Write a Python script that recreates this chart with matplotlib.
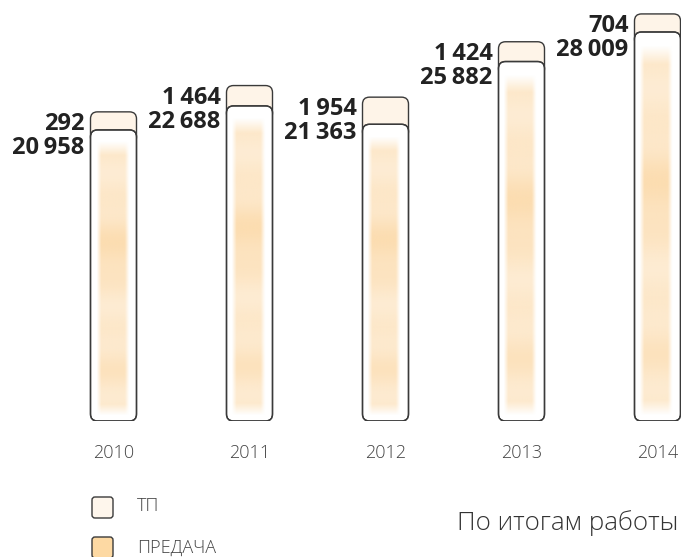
import numpy as np
import matplotlib.pyplot as plt
from matplotlib.patches import FancyBboxPatch

plt.rcParams['font.family'] = ['Open Sans', 'DejaVu Sans']

years = ['2010', '2011', '2012', '2013', '2014']
peredacha = [20958, 22688, 21363, 25882, 28009]   # ПРЕДАЧА
tp = [292, 1464, 1954, 1424, 704]                 # ТП
min_top = 1300  # small values still get a visible cap

W, H = 681, 557
fig = plt.figure(figsize=(W / 100, H / 100), dpi=100)

# bar axes: x in category units, y in data units
px_base = 421
step = 136.0
x_first = 113.5
upp = 72.0  # data units per pixel
ax = fig.add_axes([0, (H - px_base) / H, 1, px_base / H])
xlim = (-x_first / step, (W - x_first) / step)
ylim = (0, px_base * upp)
ax.set_xlim(*xlim)
ax.set_ylim(*ylim)
ax.axis('off')

bw = 46 / step
rad = 7 / step
asp = upp * step
edge = '#3a3a3a'
orange = np.array([251, 204, 138]) / 255.0


def wash(x, y0, y1):
    # soft watercolor strip inside the lower box
    nx, ny = 60, 200
    u = np.linspace(0, 1, nx)
    t = np.linspace(1, 0, ny)
    prof_x = np.clip((u - 0.12) / 0.1, 0, 1) * np.clip((0.84 - u) / 0.1, 0, 1)
    prof_y = (0.55 + 0.3 * np.exp(-((t - 0.6) / 0.12) ** 2)
              + 0.15 * np.exp(-((t - 0.17) / 0.08) ** 2)
              + 0.05 * np.cos(t * 40))
    prof_y *= np.clip(t / 0.04, 0, 1) * np.clip((0.98 - t) / 0.05, 0, 1)
    a = np.outer(prof_y, prof_x) * 0.75
    img = np.zeros((ny, nx, 4))
    img[..., :3] = orange
    img[..., 3] = np.clip(a, 0, 1)
    ax.imshow(img, extent=(x - bw / 2, x + bw / 2, y0, y1), aspect='auto',
              interpolation='bilinear', zorder=3)


for i, (p, t) in enumerate(zip(peredacha, tp)):
    x = i
    top_h = max(t, min_top)
    # upper cap (ТП)
    cap = FancyBboxPatch((x - bw / 2, p - 1000), bw, top_h + 1000,
                         boxstyle=f"round,pad=0,rounding_size={rad}",
                         mutation_aspect=asp, facecolor='#fef4e8',
                         edgecolor=edge, linewidth=1.0, zorder=1)
    ax.add_patch(cap)
    # lower box (ПРЕДАЧА)
    box = FancyBboxPatch((x - bw / 2, 0), bw, p,
                         boxstyle=f"round,pad=0,rounding_size={rad}",
                         mutation_aspect=asp, facecolor='white',
                         edgecolor=edge, linewidth=1.0, zorder=2)
    ax.add_patch(box)
    wash(x, 5 * upp, p - 6 * upp)
    ax.add_patch(FancyBboxPatch((x - bw / 2, 0), bw, p,
                                boxstyle=f"round,pad=0,rounding_size={rad}",
                                mutation_aspect=asp, facecolor='none',
                                edgecolor=edge, linewidth=1.0, zorder=4))

    top = p + top_h
    lbl = lambda v: f"{v:,}".replace(',', '\u2009')
    ax.annotate(lbl(t), xy=(x - bw / 2, top), xytext=(-6, -12),
                textcoords='offset pixels', ha='right', va='center',
                fontsize=17, fontweight='bold', color='#222222',
                annotation_clip=False)
    ax.annotate(lbl(p), xy=(x - bw / 2, top), xytext=(-6, -36),
                textcoords='offset pixels', ha='right', va='center',
                fontsize=17, fontweight='bold', color='#222222',
                annotation_clip=False)
    ax.annotate(years[i], xy=(x, 0), xytext=(0, -32),
                textcoords='offset pixels', ha='center', va='center',
                fontsize=13, fontweight='light', color='#444444',
                annotation_clip=False)

ax.set_xlim(*xlim)
ax.set_ylim(*ylim)

# overlay in pixel coordinates for legend and caption
ov = fig.add_axes([0, 0, 1, 1])
ov.set_xlim(0, W)
ov.set_ylim(H, 0)
ov.axis('off')

ov.add_patch(FancyBboxPatch((92, 497), 21, 21, boxstyle="round,pad=0,rounding_size=3",
                            facecolor='#fef6ec', edgecolor=edge, linewidth=1.0))
ov.add_patch(FancyBboxPatch((92, 537), 21, 21, boxstyle="round,pad=0,rounding_size=3",
                            facecolor='#fdd9a3', edgecolor=edge, linewidth=1.0))
ov.text(137, 506, 'ТП', fontsize=13, fontweight='light', color='#444444',
        va='center', ha='left')
ov.text(137, 548, 'ПРЕДАЧА', fontsize=13, fontweight='light', color='#444444',
        va='center', ha='left')
ov.text(678, 523, 'По итогам работы', fontsize=18.7, fontweight='light',
        color='#333333', va='center', ha='right')

fig.savefig('out.png', dpi=100)
